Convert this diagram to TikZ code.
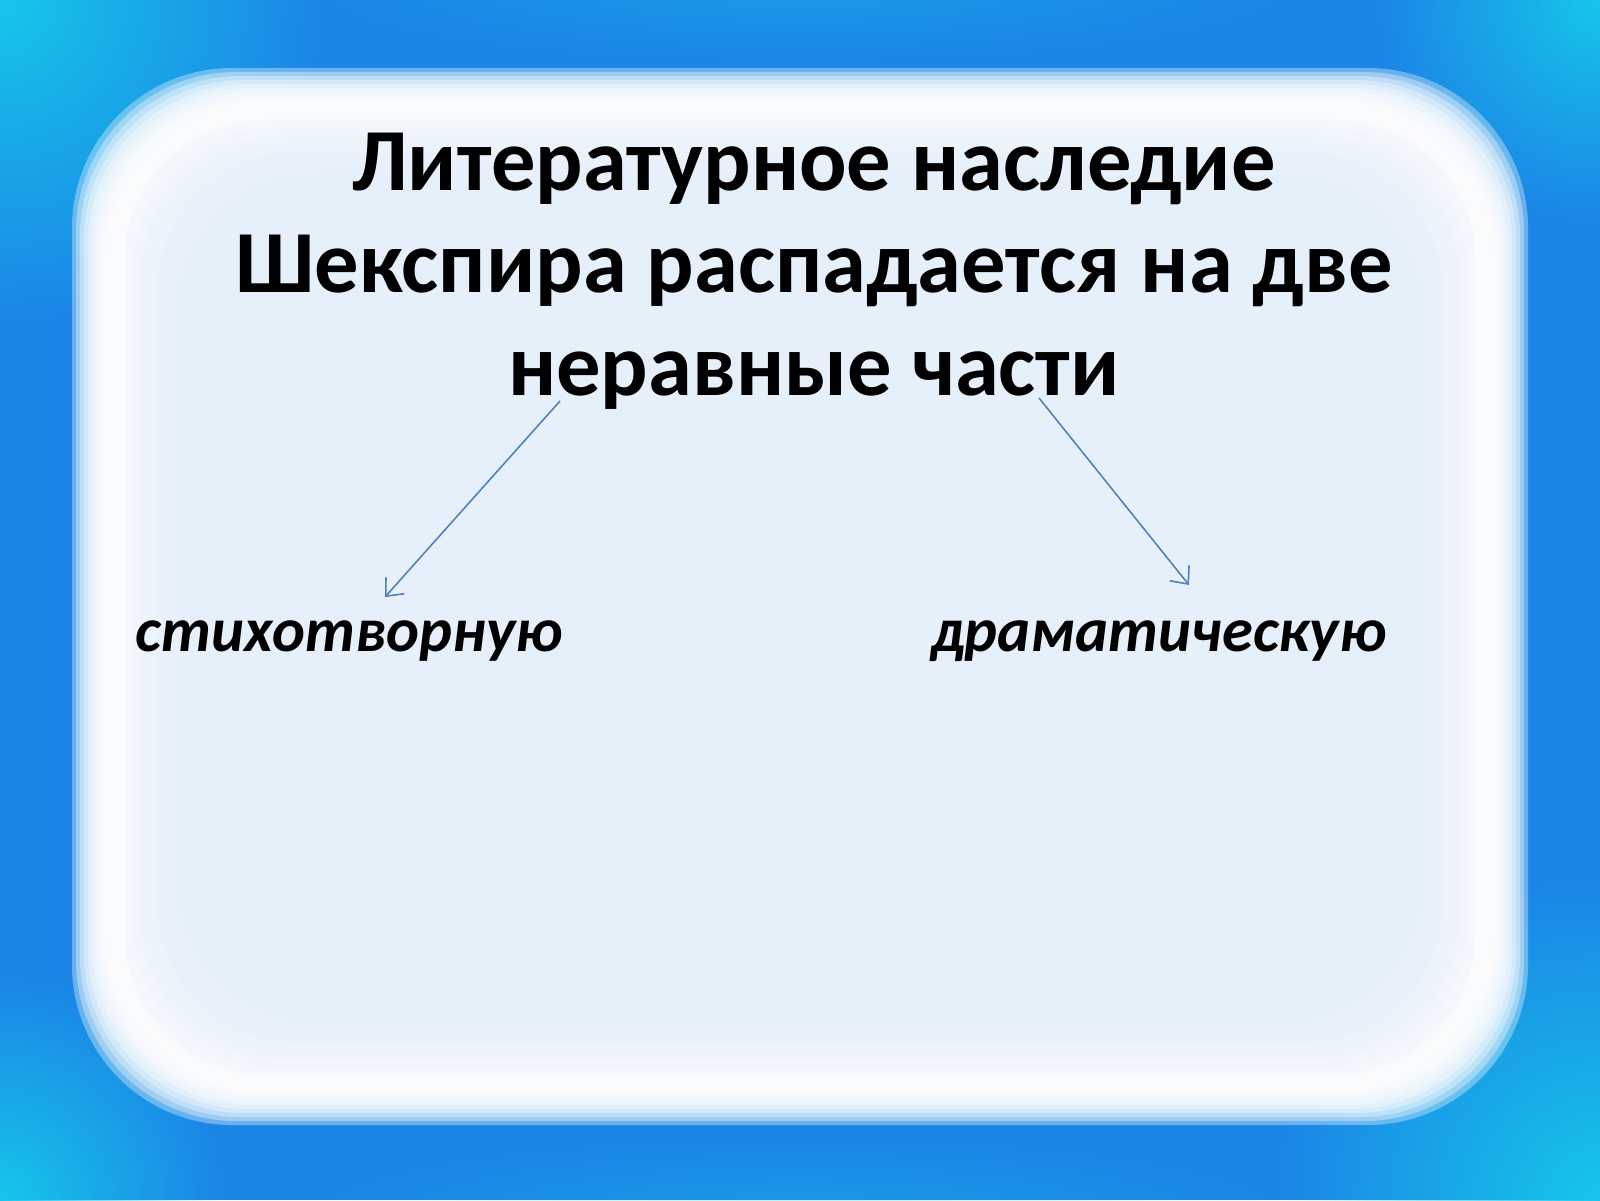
\documentclass[tikz,border=0pt]{standalone}
\usepackage{fontspec}
\setmainfont{Carlito}
\usepackage{tikz}
\usetikzlibrary{arrows.meta,fadings}
\definecolor{frameblue}{HTML}{1C86E6}
\definecolor{framecyan}{HTML}{16C6EA}
\definecolor{paleblue}{HTML}{E5F0FB}
\definecolor{arrowblue}{HTML}{4F81BD}
\tikzfading[name=cornerglow, inner color=transparent!0, outer color=transparent!100]
\tikzset{
	titletext/.style={font=\bfseries\fontsize{25.2}{29.2}\selectfont, align=center},
	parttext/.style={font=\bfseries\itshape\fontsize{17.8}{21}\selectfont},
	splitarrow/.style={draw=arrowblue, line width=0.45pt, -{Straight Barb[length=4pt,width=7pt]}}
}
\begin{document}
\begin{tikzpicture}
		%%%%% START %%%%%
		\useasboundingbox (0, 0) rectangle (16, 12);
		
		\fill[frameblue] (0, 0) rectangle (16, 12);
		\fill[framecyan, path fading=cornerglow] (0, 12) circle (3.2);
		\fill[framecyan, path fading=cornerglow] (16, 0) circle (3.2);
		\fill[framecyan, path fading=cornerglow] (16, 12) circle (2.2);
		\fill[framecyan, path fading=cornerglow] (0, 0) circle (2.2);
		\fill[framecyan, opacity=0.35, path fading=cornerglow] (8, 12.2) ellipse (5 and 0.8);
		\fill[framecyan, opacity=0.35, path fading=cornerglow] (8, -0.2) ellipse (5 and 0.8);
		
		\foreach \k in {0,...,8}
			\fill[white, opacity=0.35, rounded corners=16mm] ({0.72+0.04*\k}, {0.75+0.04*\k}) rectangle ({15.28-0.04*\k}, {11.32-0.04*\k});
		\foreach \k in {0,...,9}
			\fill[paleblue, opacity=0.22, rounded corners=14mm] ({1.25+0.08*\k}, {1.25+0.08*\k}) rectangle ({14.75-0.08*\k}, {10.8-0.08*\k});
		
		\node[titletext] (title) at (8.14, 9.29) {Литературное наследие\\Шекспира распадается на две\\неравные части};
		
		\node[parttext, anchor=base west] (verse) at (1.23, 5.49) {стихотворную};
		\node[parttext, anchor=base west] (drama) at (9.19, 5.49) {драматическую};
		
		\coordinate (ls) at (5.60, 7.99);
		\coordinate (lt) at (3.85, 6.03);
		\coordinate (rs) at (10.39, 8.02);
		\coordinate (rt) at (11.89, 6.15);
		\draw[splitarrow] (ls) -- (lt);
		\draw[splitarrow] (rs) -- (rt);
		
		%%%%% END %%%%%
	\end{tikzpicture}
\end{document}
